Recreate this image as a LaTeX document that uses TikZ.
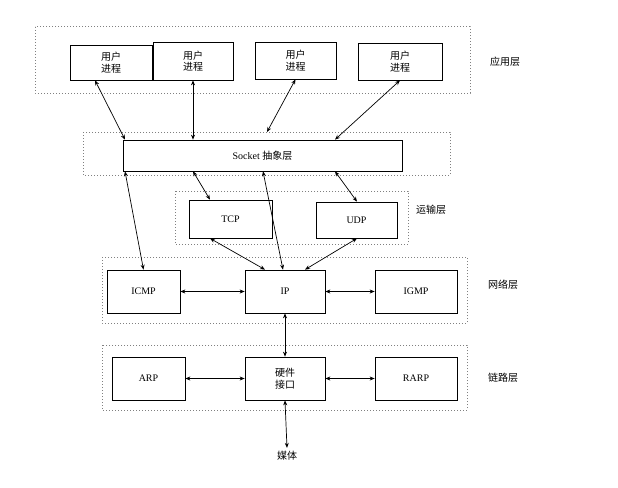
\documentclass[tikz,border=0pt]{standalone}
\usepackage{fontspec}
\setmainfont{Liberation Serif}
\newfontfamily\cjk{Noto Sans CJK SC}
\usetikzlibrary{arrows.meta}
\newcommand{\zh}[1]{{\cjk #1}}
\begin{document}
\begin{tikzpicture}[x=1pt,y=-1pt,font=\fontsize{10}{11}\selectfont,
 box/.style={draw,line width=0.7pt,minimum width=0pt,inner sep=0pt},
 layer/.style={draw,gray,dotted,line width=1pt},
 con/.style={{Stealth[length=5pt,width=4pt]}-{Stealth[length=5pt,width=4pt]},line width=0.7pt},
 lbl/.style={font=\cjk\fontsize{10}{11}\selectfont}]
\useasboundingbox (0,0) rectangle (618,487);
\draw[layer] (35,27) rectangle (470,93);
\draw[layer] (83,132) rectangle (450,175);
\draw[layer] (175,191) rectangle (408,244);
\draw[layer] (102,257) rectangle (467,323);
\draw[layer] (102,345) rectangle (467,410);
\node[box,minimum width=82pt,minimum height=35pt,align=center,font=\cjk\fontsize{10}{11.5}\selectfont] (u1) at (111,62.5) {用户\\进程};
\node[box,minimum width=80pt,minimum height=38pt,align=center,font=\cjk\fontsize{10}{11.5}\selectfont] (u2) at (193,61) {用户\\进程};
\node[box,minimum width=81pt,minimum height=37pt,align=center,font=\cjk\fontsize{10}{11.5}\selectfont] (u3) at (295.5,60.5) {用户\\进程};
\node[box,minimum width=84pt,minimum height=37pt,align=center,font=\cjk\fontsize{10}{11.5}\selectfont] (u4) at (400,61.5) {用户\\进程};
\node[box,minimum width=279pt,minimum height=31pt] (s) at (262.5,155.5) {Socket \zh{抽象层}};
\node[box,minimum width=83pt,minimum height=38pt] (tcp) at (230.5,219) {TCP};
\node[box,minimum width=81pt,minimum height=36pt] (udp) at (356.5,220) {UDP};
\node[box,minimum width=73pt,minimum height=43pt] (icmp) at (143.5,291.5) {ICMP};
\node[box,minimum width=80pt,minimum height=43pt] (ip) at (285,291.5) {IP};
\node[box,minimum width=82pt,minimum height=43pt] (igmp) at (416,291.5) {IGMP};
\node[box,minimum width=73pt,minimum height=43pt] (arp) at (148.5,378.5) {ARP};
\node[box,minimum width=80pt,minimum height=43pt,align=center,font=\cjk\fontsize{10}{11.5}\selectfont] (hw) at (285,378.5) {硬件\\接口};
\node[box,minimum width=82pt,minimum height=43pt] (rarp) at (416,378.5) {RARP};
\node[lbl] (mt) at (287,456) {媒体};
\node[lbl] (l1) at (505,62) {应用层};
\node[lbl] (l2) at (431,210) {运输层};
\node[lbl] (l3) at (503,285) {网络层};
\node[lbl] (l4) at (503,378) {链路层};
\coordinate (sp) at (267,132);
\draw[con] (u1.south -| 95,0) -- (s.north -| 125,0);
\draw[con] (u2.south) -- (s.north -| 193,0);
\draw[con] (u3.south) -- (sp);
\draw[con] (u4.south) -- (s.north -| 335,0);
\draw[con] (s.south -| 125,0) -- (icmp.north);
\draw[con] (s.south -| 193,0) -- (tcp.north -| 210,0);
\draw[con] (s.south -| 263,0) -- (ip.north -| 283,0);
\draw[con] (s.south -| 335,0) -- (udp.north -| 357,0);
\draw[con] (tcp.south -| 210,0) -- (ip.north -| 265,0);
\draw[con] (udp.south -| 357,0) -- (ip.north -| 305,0);
\draw[con] (icmp.east) -- (ip.west);
\draw[con] (ip.east) -- (igmp.west);
\draw[con] (ip.south) -- (hw.north);
\draw[con] (arp.east) -- (hw.west);
\draw[con] (hw.east) -- (rarp.west);
\draw[con] (hw.south) -- (mt.north);
\end{tikzpicture}
\end{document}
